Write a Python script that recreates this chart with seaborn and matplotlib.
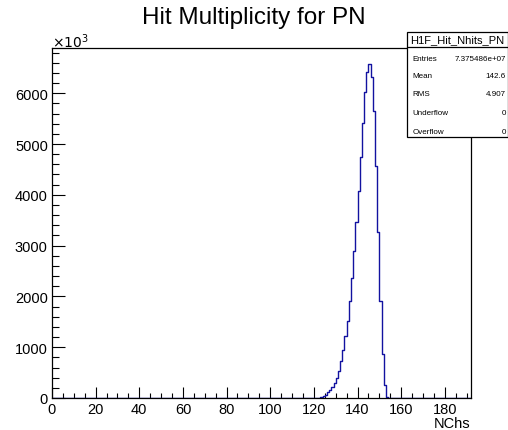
import numpy as np
import pandas as pd
import matplotlib
matplotlib.use("Agg")
import matplotlib.pyplot as plt
from matplotlib.ticker import MultipleLocator
from matplotlib.patches import Rectangle
import seaborn as sns

# ---- data (bin counts in units of 10^3, bins of width 1 starting at bin_start) ----
bin_start = list(range(123, 154))
counts = [14, 33, 65, 112, 157, 222, 295, 388, 537, 734,
          951, 1214, 1522, 1915, 2356, 2887, 3458, 4069, 4750, 5407,
          6018, 6424, 6575, 6325, 5643, 4573, 3262, 1915, 866, 256,
          20]
x_ticks = [0, 20, 40, 60, 80, 100, 120, 140, 160, 180]
y_ticks = [0, 1000, 2000, 3000, 4000, 5000, 6000]
title = "Hit Multiplicity for PN"
xlabel = "NChs"
stats_name = "H1F_Hit_Nhits_PN"
stats_rows = [("Entries", "7.375486e+07"), ("Mean", "142.6"), ("RMS", "4.907"),
              ("Underflow", "0"), ("Overflow", "0")]

sns.set_style("ticks")
plt.rcParams["font.family"] = ["Liberation Sans", "DejaVu Sans"]
plt.rcParams["text.color"] = "black"
plt.rcParams["axes.labelcolor"] = "black"

df = pd.DataFrame({"nchs": np.array(bin_start) + 0.5, "w": counts})

fig = plt.figure(figsize=(5.08, 4.31), dpi=100)
ax = fig.add_axes([52 / 508, 1 - 399 / 431, (471 - 52) / 508, (399 - 49) / 431])
sns.histplot(data=df, x="nchs", weights="w", binwidth=1, binrange=(0, 192),
             element="step", fill=False, color="#1212a0", linewidth=1.0, ax=ax)

ax.set_xlim(0, 192)
ax.set_ylim(0, 6890)
ax.set_xticks(x_ticks)
ax.set_yticks(y_ticks)
ax.xaxis.set_minor_locator(MultipleLocator(5))
ax.yaxis.set_minor_locator(MultipleLocator(200))
ax.tick_params(axis="both", which="both", direction="in", top=False, right=False,
               labelsize=10.5, colors="black", width=0.8)
ax.tick_params(axis="x", which="major", length=7.6, pad=3)
ax.tick_params(axis="x", which="minor", length=3.8)
ax.tick_params(axis="y", which="major", length=9.5, pad=3)
ax.tick_params(axis="y", which="minor", length=4.8)
for s in ax.spines.values():
    s.set_visible(True)
    s.set_color("black")
    s.set_linewidth(0.9)
ax.set_ylabel("")
ax.set_xlabel("")
fig.text(470 / 508, 1 - 424 / 431, xlabel, ha="right", va="center", fontsize=10.5)

fig.text(0.5, 1 - 18 / 431, title, ha="center", va="center", fontsize=17.5)
fig.text(52 / 508, 1 - 48 / 431, r"$\times10^{3}$", ha="left", va="baseline", fontsize=10)

# stats box
bx0, bx1 = 407.3 / 508, 507.5 / 508
by_top, by_head, by_bot = 1 - 33.3 / 431, 1 - 47.7 / 431, 1 - 138.3 / 431
fig.patches.append(Rectangle((bx0, by_bot), bx1 - bx0, by_top - by_bot,
                             transform=fig.transFigure, facecolor="white",
                             edgecolor="black", linewidth=0.9, zorder=5))
fig.lines.append(plt.Line2D([bx0, bx1], [by_head, by_head], transform=fig.transFigure,
                            color="black", linewidth=0.9, zorder=6))
fig.text((bx0 + bx1) / 2, (by_top + by_head) / 2, stats_name, ha="center", va="center",
         fontsize=8, zorder=7)
row_y = [59.3, 76.5, 95, 113.5, 132]
for (lab, val), yy in zip(stats_rows, row_y):
    fig.text(412.7 / 508, 1 - yy / 431, lab, ha="left", va="center", fontsize=5.8, zorder=7)
    fig.text(506 / 508, 1 - yy / 431, val, ha="right", va="center", fontsize=5.8, zorder=7)

fig.savefig("out.png", dpi=100)
